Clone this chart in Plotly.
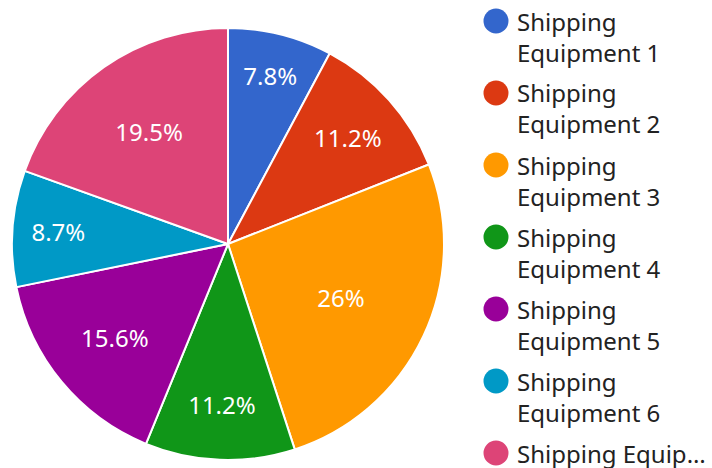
import plotly.graph_objects as go

labels = ["Shipping Equipment 1", "Shipping Equipment 2", "Shipping Equipment 3",
          "Shipping Equipment 4", "Shipping Equipment 5", "Shipping Equipment 6",
          "Shipping Equipment 7"]
values = [7.8, 11.2, 26.0, 11.2, 15.6, 8.7, 19.5]
colors = ["#3366cc", "#dc3912", "#ff9900", "#109618", "#990099", "#0099c6", "#dd4477"]
legend_lines = [["Shipping", "Equipment 1"], ["Shipping", "Equipment 2"],
                ["Shipping", "Equipment 3"], ["Shipping", "Equipment 4"],
                ["Shipping", "Equipment 5"], ["Shipping", "Equipment 6"],
                ["Shipping Equip…"]]

W, H = 712, 468
MT, MB = 28, 8
PH = H - MT - MB
FONT = "Noto Sans"


def py(pix):
    """pixel y from top of figure -> paper y"""
    return 1 - (pix - MT) / PH


fig = go.Figure(go.Pie(
    labels=labels, values=values, sort=False, direction="clockwise", rotation=0,
    marker=dict(colors=colors, line=dict(color="white", width=2)),
    textinfo="percent", textposition="inside", insidetextorientation="horizontal",
    textfont=dict(family=FONT, size=24, color="white"),
    domain=dict(x=[12 / W, 444 / W], y=[0, 1]),
    showlegend=False, hoverinfo="label+percent",
))

shapes = []
annotations = []
for i, lines in enumerate(legend_lines):
    cy = 21 + 72 * i
    shapes.append(dict(type="circle", xref="paper", yref="paper",
                       xsizemode="pixel", ysizemode="pixel",
                       xanchor=496 / W, yanchor=py(cy),
                       x0=-12.5, x1=12.5, y0=-12.5, y1=12.5,
                       fillcolor=colors[i], line=dict(width=0)))
    mid = cy + 15.5 * (len(lines) - 1)
    annotations.append(dict(text="<br>".join(lines), xref="paper", yref="paper",
                            x=515 / W, y=py(mid), xanchor="left", yanchor="middle",
                            align="left", showarrow=False,
                            font=dict(family=FONT, size=24, color="#222222")))

fig.update_layout(
    width=W, height=H, margin=dict(l=0, r=0, t=MT, b=MB),
    paper_bgcolor="white", plot_bgcolor="white",
    shapes=shapes, annotations=annotations,
)
fig.write_html("out.html", config={"displayModeBar": False},
               post_script="document.body.style.margin='0';document.body.style.overflow='hidden';")
